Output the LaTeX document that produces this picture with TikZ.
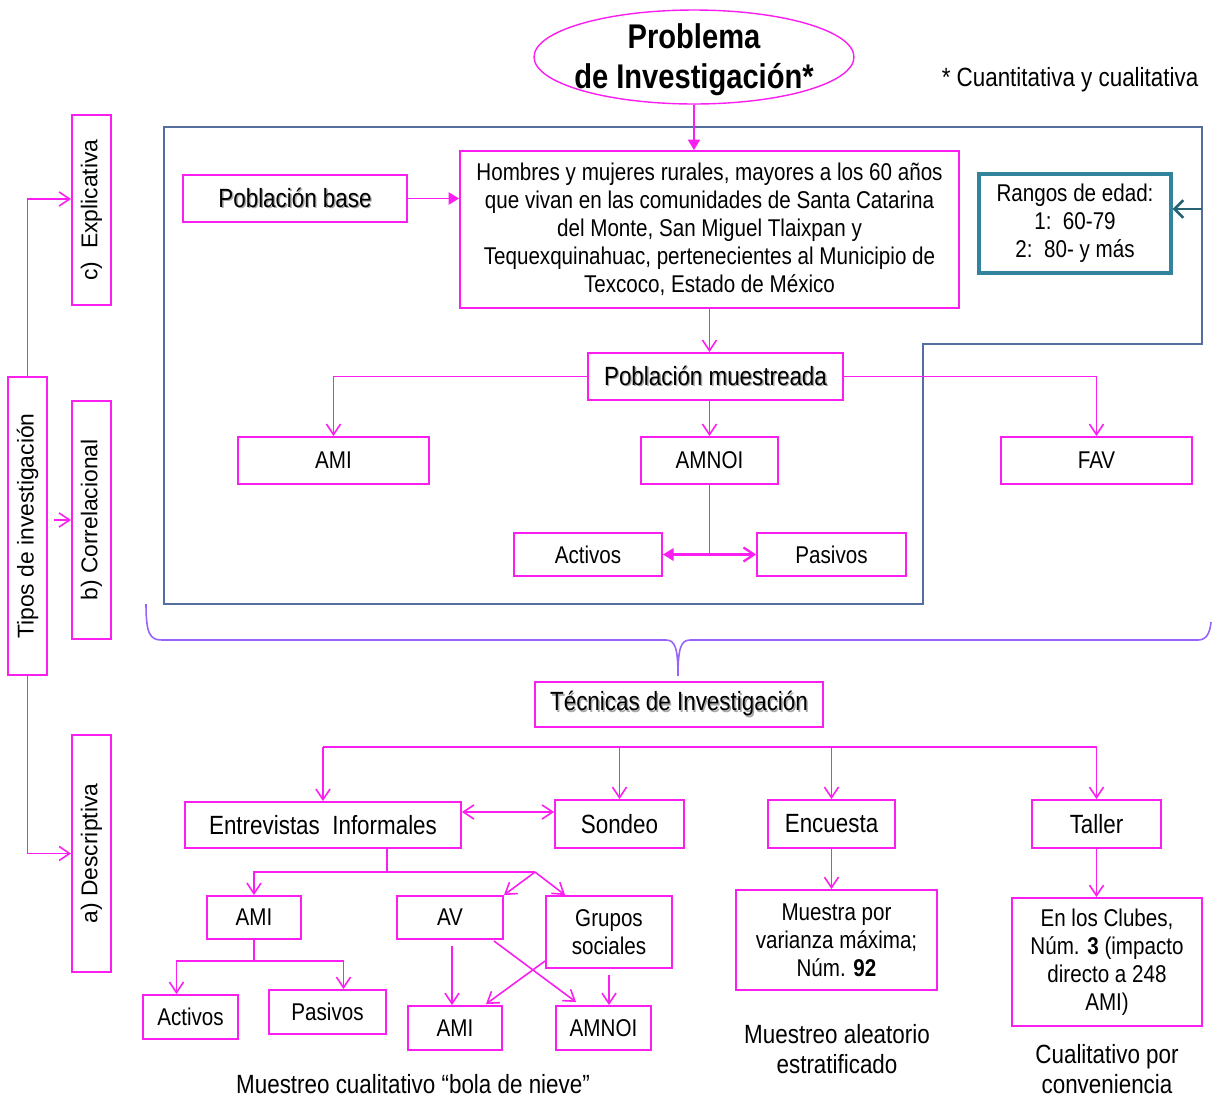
\documentclass[tikz,border=0pt]{standalone}
\usepackage{fontspec}
\setmainfont[FakeStretch=0.85]{Liberation Sans}
\newfontfamily\anchafont{Liberation Sans}
\usetikzlibrary{shapes,arrows.meta,calc}
\definecolor{rosa}{RGB}{250,30,240}
\definecolor{marco}{RGB}{84,110,160}
\definecolor{turquesa}{RGB}{49,132,155}
\definecolor{llave}{RGB}{150,100,250}
\newcommand\letrachica{\fontsize{13.8}{15.9}\selectfont}
\newcommand\letragrande{\fontsize{15}{17}\selectfont}
\newcommand\letratitulo{\fontsize{19.5}{22.8}\selectfont}
\newcommand\sombra[1]{\leavevmode\rlap{\kern0.8pt\raisebox{-0.8pt}{\textcolor{black!35}{#1}}}#1}
\tikzset{
  caja/.style={draw=rosa, line width=1.1pt, inner sep=2pt, align=center, font=\letrachica},
  cajag/.style={caja, font=\letragrande},
  lado/.style={caja, rotate=90, font=\anchafont\fontsize{13}{15}\selectfont},
  pie/.style={font=\letragrande, align=center, inner sep=0.5pt},
  rama/.style={draw=rosa, line width=0.9pt},
  flecha/.style={rama, -{Straight Barb[length=6pt,width=8pt]}},
  doble/.style={rama, {Straight Barb[length=6pt,width=8pt]}-{Straight Barb[length=6pt,width=8pt]}},
  lleno/.style={rama, -{Triangle[length=6pt,width=7pt]}},
}

\begin{document}
\begin{tikzpicture}[x=0.02cm, y=-0.02cm]
  \useasboundingbox (0,0) rectangle (1212,1100);
  %marco y llave
  \draw[marco, line width=0.7pt] (164,127) -- (1202,127) -- (1202,344) -- (923,344) -- (923,604) -- (164,604) -- cycle;
  \coordinate (m) at (1202,209);
  \draw[llave, line width=0.9pt] (146,604) .. controls (146,634) and (150,640) .. (162,640) -- (666,640) .. controls (675,640) and (678,648) .. (678,676) .. controls (678,648) and (681,640) .. (690,640) -- (1198,640) .. controls (1207,640) and (1210,632) .. (1211,622);
  %nodos de arriba
  \node[ellipse, draw=rosa, line width=0.8pt, minimum width=6.4cm, minimum height=1.88cm] (problema) at (694,57) {};
  \node[font=\bfseries\letratitulo, align=center] (titulo) at (694,60) {Problema\\de Investigación*};
  \node[font=\letragrande] (nota) at (1070,80) {* Cuantitativa y cualitativa};
  \node[cajag, minimum width=4.48cm, minimum height=0.94cm] (base) at (295,198.5) {\sombra{Población base}};
  \node[caja, minimum width=9.98cm, minimum height=3.14cm] (hombres) at (709.5,229.5) {Hombres y mujeres rurales, mayores a los 60 años\\que vivan en las comunidades de Santa Catarina\\del Monte, San Miguel Tlaixpan y\\Tequexquinahuac, pertenecientes al Municipio de\\Texcoco, Estado de México};
  \node[caja, draw=turquesa, line width=1.9pt, minimum width=3.84cm, minimum height=1.98cm] (rangos) at (1075,223.5) {Rangos de edad:\\1:~~60-79\\2:~~80- y más};
  \node[cajag, minimum width=5.1cm, minimum height=0.94cm] (muestreada) at (715.5,376.5) {\sombra{Población muestreada}};
  \node[caja, minimum width=3.82cm, minimum height=0.94cm] (ami) at (333.5,460.5) {AMI};
  \node[caja, minimum width=2.74cm, minimum height=0.94cm] (amnoi) at (709.5,460.5) {AMNOI};
  \node[caja, minimum width=3.82cm, minimum height=0.94cm] (fav) at (1096.5,460.5) {FAV};
  \node[caja, minimum width=2.96cm, minimum height=0.86cm] (activos) at (588,554.5) {Activos};
  \node[caja, minimum width=2.98cm, minimum height=0.86cm] (pasivos) at (831.5,554.5) {Pasivos};
  %tipos de investigacion
  \node[lado, minimum width=5.96cm, minimum height=0.78cm] (tipos) at (27.5,526) {Tipos de investigación};
  \node[lado, minimum width=3.8cm, minimum height=0.78cm] (explicativa) at (91.5,210) {c)~~Explicativa};
  \node[lado, minimum width=4.76cm, minimum height=0.78cm] (correlacional) at (91.5,520) {b) Correlacional};
  \node[lado, minimum width=4.74cm, minimum height=0.78cm] (descriptiva) at (91.5,853.5) {a) Descriptiva};
  %tecnicas
  \node[cajag, minimum width=5.76cm, minimum height=0.9cm] (tecnicas) at (679,704.5) {\sombra{Técnicas de Investigación}};
  \node[cajag, minimum width=5.52cm, minimum height=0.92cm] (entrevistas) at (323,825) {Entrevistas~~Informales};
  \node[cajag, minimum width=2.58cm, minimum height=0.96cm] (sondeo) at (619.5,824) {Sondeo};
  \node[cajag, minimum width=2.54cm, minimum height=0.96cm] (encuesta) at (831.5,824) {Encuesta};
  \node[cajag, minimum width=2.58cm, minimum height=0.96cm] (taller) at (1096.5,824) {Taller};
  \node[caja, minimum width=4.02cm, minimum height=2cm] (muestra) at (836.5,940) {Muestra por\\varianza máxima;\\Núm. \textbf{92}};
  \node[caja, minimum width=3.8cm, minimum height=2.56cm] (clubes) at (1107,962) {En los Clubes,\\Núm. \textbf{3} (impacto\\directo a 248\\AMI)};
  \node[caja, minimum width=1.88cm, minimum height=0.86cm] (ami2) at (254,917.5) {AMI};
  \node[caja, minimum width=2.12cm, minimum height=0.86cm] (av) at (450,917.5) {AV};
  \node[caja, minimum width=2.52cm, minimum height=1.44cm] (grupos) at (609,932) {Grupos\\sociales};
  \node[caja, minimum width=1.9cm, minimum height=0.88cm] (activos2) at (190.5,1017) {Activos};
  \node[caja, minimum width=2.34cm, minimum height=0.88cm] (pasivos2) at (327.5,1012) {Pasivos};
  \node[caja, minimum width=1.88cm, minimum height=0.88cm] (ami3) at (455,1028) {AMI};
  \node[caja, minimum width=1.9cm, minimum height=0.88cm] (amnoi3) at (603.5,1028) {AMNOI};
  \node[pie] (aleatorio) at (837,1049) {Muestreo aleatorio\\estratificado};
  \node[pie] (conveniencia) at (1107,1069) {Cualitativo por\\conveniencia};
  \node[pie] (bola) at (413,1084) {Muestreo cualitativo “bola de nieve”};
  % Edges
  \draw[lleno] (problema.south) -- (problema.south |- hombres.north);
  \draw[lleno] (base.east) -- (base.east -| hombres.west);
  \draw[turquesa!75!black, line width=1.5pt, -{Straight Barb[length=5pt,width=10pt]}] (m) -- (m -| rangos.east);
  \draw[flecha] (hombres.south) -- (hombres.south |- muestreada.north);
  \draw[flecha] (muestreada.west) -| (ami.north);
  \draw[flecha] (muestreada.east) -| (fav.north);
  \draw[flecha] (muestreada.south -| amnoi) -- (amnoi.north);
  \draw[rama] (amnoi.south) -- (amnoi.south |- activos.east) coordinate (cruce);
  \draw[lleno, line width=1.3pt] (cruce) -- (activos.east);
  \draw[flecha, line width=1.3pt] (cruce) -- (pasivos.west);
  \draw[flecha] (tipos.east) |- ($(explicativa.north)+(0,-11)$);
  \draw[flecha] ($(tipos.south |- correlacional.north)+(6,0)$) -- (correlacional.north);
  \draw[flecha] (tipos.west) |- (descriptiva.north);
  \coordinate (reparto) at (679,747);
  \draw[rama] (reparto -| entrevistas.north) -- (reparto -| taller.north);
  \foreach \t in {entrevistas,sondeo,encuesta,taller}
    \draw[flecha] (reparto -| \t.north) -- (\t.north);
  \path ($(entrevistas.east)+(0,-13)$) coordinate (ida);
  \draw[doble] (ida) -- (ida -| sondeo.west);
  \draw[flecha] (encuesta.south) -- (encuesta.south |- muestra.north);
  \draw[flecha] (taller.south) -- (taller.south |- clubes.north);
  \coordinate (ramaE) at (387,872);
  \coordinate (ramaG) at (535,872);
  \draw[rama] (ramaE |- entrevistas.south) -- (ramaE) -- (ramaG);
  \draw[flecha] (ramaE) -| (ami2.north);
  \draw[flecha] (ramaG) -- (av.north east);
  \draw[flecha] (ramaG) -- ($(grupos.north west)+(20,0)$);
  \draw[rama] (ami2.south) -- ++(0,21) coordinate (ramaA);
  \draw[flecha] (ramaA) -| ($(activos2.north)+(-14,0)$);
  \draw[flecha] (ramaA) -| ($(pasivos2.north)+(16,0)$);
  \draw[flecha] ($(av.south)+(2,6)$) coordinate (avb) -- (avb |- ami3.north);
  \draw[flecha] ($(av.south east)+(-10,1)$) -- ($(amnoi3.north west)+(21,-3)$);
  \draw[flecha] ($(grupos.south west)+(0,-8)$) -- ($(ami3.north east)+(-17,-1)$);
  \draw[flecha] ($(grupos.south)+(0,6)$) -- (grupos.south |- amnoi3.north);
\end{tikzpicture}
\end{document}
